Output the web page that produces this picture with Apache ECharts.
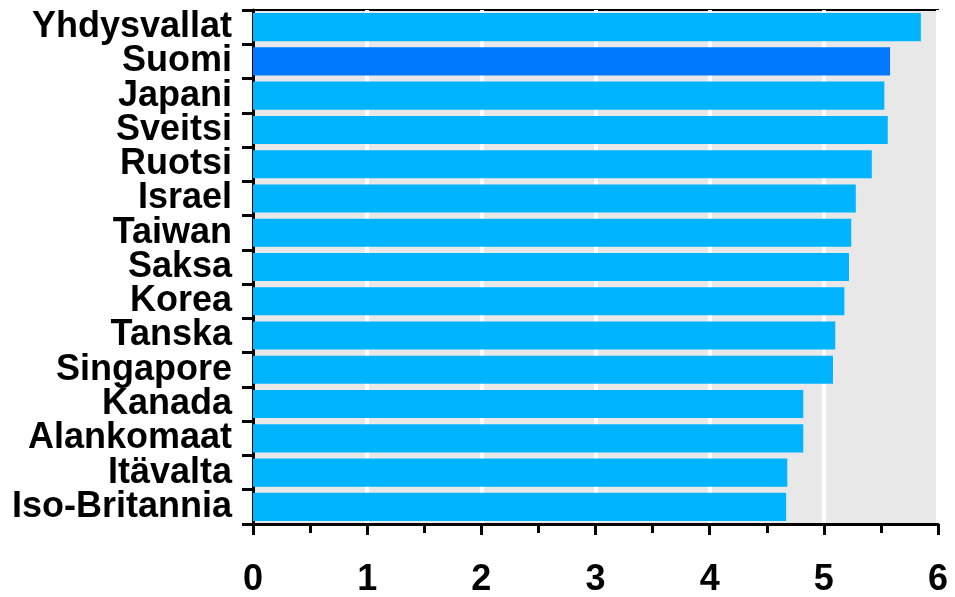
<!DOCTYPE html>
<html>
<head>
<meta charset="utf-8">
<style>
  html, body { margin: 0; padding: 0; background: #ffffff; }
  #chart { width: 955px; height: 597px; }
</style>
<script src="https://cdn.jsdelivr.net/npm/echarts@6/dist/echarts.min.js"></script>
</head>
<body>
<div id="chart"></div>
<script>
// Countries, listed top to bottom
const categories = [
  'Yhdysvallat', 'Suomi', 'Japani', 'Sveitsi', 'Ruotsi', 'Israel', 'Taiwan',
  'Saksa', 'Korea', 'Tanska', 'Singapore', 'Kanada', 'Alankomaat',
  'Itävalta', 'Iso-Britannia'
];
const values = [5.85, 5.58, 5.53, 5.56, 5.42, 5.28, 5.24, 5.22, 5.18, 5.10, 5.08, 4.82, 4.82, 4.68, 4.67];
const highlighted = 'Suomi';
const xTicks = [0, 1, 2, 3, 4, 5, 6];

const baseColor = '#00b4ff';
const highlightColor = '#0078ff';
const fontFamily = '"Liberation Sans", Arial, sans-serif';

const chart = echarts.init(document.getElementById('chart'), null, { renderer: 'canvas' });

chart.setOption({
  animation: false,
  grid: {
    left: 253, right: 17, top: 10, bottom: 73,
    outerBoundsMode: 'none',
    containLabel: false,
    show: true,
    backgroundColor: '#e8e8e8',
    borderColor: '#000000',
    borderWidth: 2
  },
  xAxis: {
    type: 'value',
    min: xTicks[0],
    max: xTicks[xTicks.length - 1],
    interval: 1,
    axisLine: { show: true, onZero: false, lineStyle: { color: '#000', width: 3 } },
    axisTick: { show: true, length: 11, lineStyle: { color: '#000', width: 3 } },
    minorTick: { show: true, splitNumber: 2, length: 9, lineStyle: { color: '#000', width: 3 } },
    splitLine: { show: true, lineStyle: { color: '#ffffff', width: 4 } },
    axisLabel: {
      margin: 38,
      color: '#000',
      fontFamily: fontFamily,
      fontWeight: 'bold',
      fontSize: 36,
      formatter: v => xTicks.includes(v) ? String(v) : ''
    }
  },
  yAxis: {
    type: 'category',
    inverse: true,
    data: categories,
    axisLine: { show: true, lineStyle: { color: '#000', width: 3 } },
    axisTick: { show: true, length: 11, lineStyle: { color: '#000', width: 3 } },
    splitLine: { show: false },
    axisLabel: {
      interval: 0,
      hideOverlap: false,
      margin: 21,
      padding: [6, 0, 0, 0],
      color: '#000',
      fontFamily: fontFamily,
      fontWeight: 'bold',
      fontSize: 36,
      lineHeight: 34
    }
  },
  series: [{
    type: 'bar',
    barCategoryGap: '18%',
    data: values.map((v, i) => ({
      value: v,
      itemStyle: { color: categories[i] === highlighted ? highlightColor : baseColor }
    }))
  }]
});
</script>
</body>
</html>
